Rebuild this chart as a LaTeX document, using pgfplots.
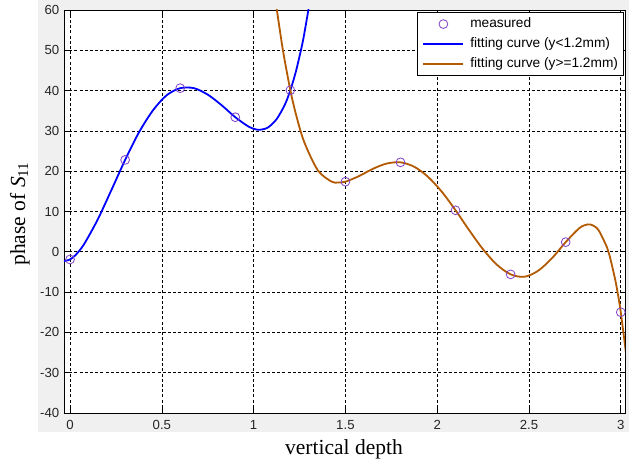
\documentclass[border=0pt]{standalone}
\usepackage{pgfplots}
\pgfplotsset{compat=1.18}
\usepackage{fontspec}
\setmainfont{Liberation Serif}
\newfontfamily\arial{Liberation Sans}

\definecolor{figgray}{HTML}{F0F0F0}
\definecolor{fitblue}{HTML}{0000FF}
\definecolor{fitbrown}{HTML}{B35A00}
\definecolor{meas}{HTML}{8040C8}

% legend samples: 40bp line, or a single centred mark
\pgfplotsset{
  lineleg/.style={legend image code/.code={\draw[##1] (0bp,0bp) -- (40bp,0bp);}},
  markleg/.style={legend image code/.code={\path (0bp,0bp) (40bp,0bp);
      \draw[##1] plot coordinates {(20bp,0bp)};}},
}

\begin{document}
\begin{tikzpicture}
% page size and grey figure background
\useasboundingbox (-64bp,-50bp) rectangle (565bp,413bp);
\fill[figgray] (-26bp,-19bp) rectangle (565bp,413bp);
\begin{axis}[
  scale only axis, width=561bp, height=403bp,
  xmin=-0.033, xmax=3.023, ymin=-40, ymax=60,
  xtick={0,0.5,1,1.5,2,2.5,3},
  ytick={-40,-30,-20,-10,0,10,20,30,40,50,60},
  axis background/.style={fill=white},
  axis line style={black, line width=0.8bp},
  grid=major,
  major grid style={black, line width=0.6bp, dash pattern=on 3bp off 2.2bp},
  tick align=inside, major tick length=5bp,
  tick style={black, line width=0.6bp},
  /pgf/number format/assume math mode=true,
  ticklabel style={font=\arial\fontsize{13.2bp}{15bp}\selectfont, text=black!85},
  xticklabel style={yshift=-3.4bp},
  yticklabel style={xshift=-1.2bp},
  xlabel={vertical depth},
  ylabel={phase of \textit{S}\textsubscript{11}},
  label style={font=\fontsize{21.5bp}{24bp}\selectfont},
  xlabel style={at={(axis description cs:0.4991,-0.1042)}, anchor=base},
  ylabel style={at={(axis description cs:-0.0695,0.494)}, anchor=base},
  legend cell align=left,
  legend style={at={(rel axis cs:0.997,0.994)}, anchor=north east,
    font=\arial\fontsize{13.7bp}{16bp}\selectfont,
    draw=black, line width=0.6bp, fill=white,
    inner xsep=5bp, inner ysep=4.6bp, row sep=6.5bp, column sep=6bp,
    nodes={inner sep=0pt, text height=10bp, text depth=3.5bp}},
]
% measured phase
\addplot[only marks, mark=o, mark size=4.4bp,
  mark options={draw=meas, line width=0.8bp}, markleg]
  coordinates {(0,-1.9) (0.3,22.8) (0.6,40.6) (0.9,33.4) (1.2,40.1) (1.5,17.4)
    (1.8,22.2) (2.1,10.3) (2.4,-5.6) (2.7,2.4) (3.0,-15.0)};
\addlegendentry{measured}
% fit below 1.2 mm
\addplot[fitblue, line width=1.8bp, smooth, no marks, lineleg]
  coordinates {
  (-0.033,-2.3) (0,-1.9) (0.03,-0.8) (0.075,1.8) (0.15,7.95) (0.225,15.3)
  (0.3,22.8) (0.375,29.6) (0.45,35.0) (0.525,38.8) (0.6,40.6) (0.675,40.6)
  (0.75,39.0) (0.825,36.4) (0.9,33.4) (0.975,31.0) (1.02,30.3) (1.05,30.4)
  (1.08,30.9) (1.125,32.9) (1.17,36.5) (1.2,40.1) (1.23,44.7) (1.26,50.5)
  (1.275,53.9) (1.305,61.8)};
\addlegendentry{fitting curve (y<1.2mm)}
% fit from 1.2 mm on
\addplot[fitbrown, line width=1.8bp, smooth, no marks, lineleg]
  coordinates {
  (1.11,65.6) (1.125,60.5) (1.155,51.3) (1.17,47.3) (1.2,40.1) (1.23,34.2)
  (1.275,27.3) (1.35,20.2) (1.425,17.4) (1.46,17.2) (1.5,17.4) (1.575,18.8)
  (1.65,20.6) (1.725,21.9) (1.8,22.2) (1.875,21.1) (1.95,18.6) (2.025,14.9)
  (2.1,10.3) (2.175,5.3) (2.25,0.6) (2.325,-3.2) (2.4,-5.6) (2.475,-6.2)
  (2.55,-4.7) (2.625,-1.6) (2.7,2.4) (2.775,5.9) (2.82,6.8) (2.85,6.5)
  (2.88,5.3) (2.925,1.1) (2.94,-1.1) (2.97,-7.0) (2.985,-10.7) (3.0,-15.0)
  (3.03,-25.7)};
\addlegendentry{fitting curve (y>=1.2mm)}
\end{axis}
\end{tikzpicture}
\end{document}
